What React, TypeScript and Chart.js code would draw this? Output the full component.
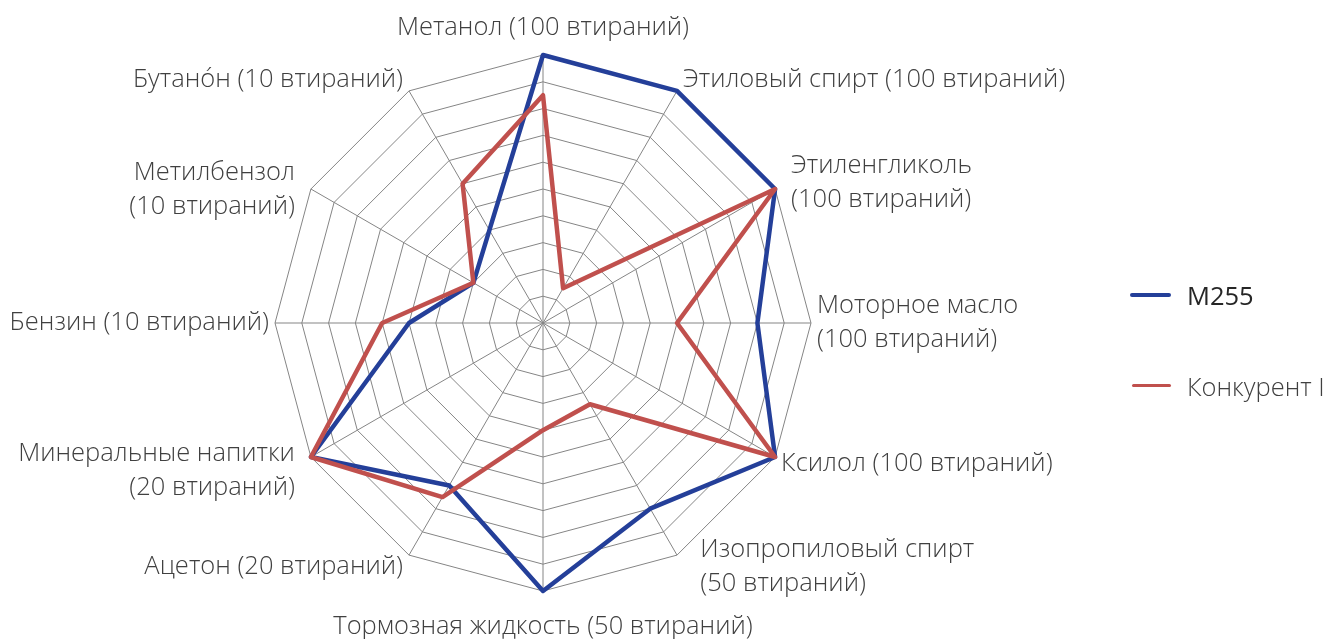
import React, { useEffect, useRef } from "react";
import { Chart, registerables } from "chart.js";

Chart.register(...registerables);

// ---- data ----
const CATEGORIES: string[][] = [
  ["Метанол (100 втираний)"],
  ["Этиловый спирт (100 втираний)"],
  ["Этиленгликоль", "(100 втираний)"],
  ["Моторное масло", "(100 втираний)"],
  ["Ксилол (100 втираний)"],
  ["Изопропиловый спирт", "(50 втираний)"],
  ["Тормозная жидкость (50 втираний)"],
  ["Ацетон (20 втираний)"],
  ["Минеральные напитки", "(20 втираний)"],
  ["Бензин (10 втираний)"],
  ["Метилбензол", "(10 втираний)"],
  ["Бутано\u0301н (10 втираний)"],
];

const SERIES_NAMES = ["M255", "Конкурент I"];
const M255_VALUES = [10, 10, 10, 8, 10, 8, 10, 7, 10, 5, 3, 4];
const COMPETITOR_VALUES = [8.5, 1.5, 10, 5, 10, 3.5, 4, 7.5, 10, 6, 3, 6];

const SCALE_MIN = 0;
const SCALE_MAX = 10;
const SCALE_STEP = 1;

// ---- styles ----
const BLUE = "#243f99";
const RED = "#c0504d";
const GRID = "#858585";
const LABEL_COLOR = "#404040";
const FONT_FAMILY = '"Open Sans", "Noto Sans", sans-serif';
const FONT_WEIGHT = 300;
const FONT_SIZE = 25.5;
const LINE_H = 34;

const labelPlugin = {
  id: "excelPointLabels",
  afterDraw(chart: any) {
    const scale = chart.scales.r;
    const ctx = chart.ctx as CanvasRenderingContext2D;
    const n = CATEGORIES.length;
    ctx.save();
    ctx.font = `${FONT_WEIGHT} ${FONT_SIZE}px ${FONT_FAMILY}`;
    ctx.fillStyle = LABEL_COLOR;
    ctx.textBaseline = "middle";
    for (let i = 0; i < n; i++) {
      const lines = CATEGORIES[i];
      const p = scale.getPointPosition(i, scale.drawingArea);
      const a = (i / n) * Math.PI * 2;
      const s = Math.sin(a);
      const c = Math.cos(a);
      const h = (lines.length - 1) * LINE_H;
      let x = p.x;
      let yMid: number;
      if (Math.abs(s) < 1e-6) {
        ctx.textAlign = "center";
        yMid = c > 0 ? p.y - 27 : p.y + 36;
      } else {
        ctx.textAlign = s > 0 ? "left" : "right";
        const multi = lines.length > 1;
        const extra = multi ? 20 * Math.abs(c) : 0;
        x = p.x + Math.sign(s) * (6 + extra);
        yMid = p.y - c * 13 + (multi && s < 0 ? 7 : 0);
      }
      lines.forEach((ln, k) => ctx.fillText(ln, x, yMid - h / 2 + k * LINE_H));
    }
    ctx.restore();
  },
};

export default function App() {
  const ref = useRef<HTMLCanvasElement | null>(null);

  useEffect(() => {
    if (!ref.current) return;
    const chart = new Chart(ref.current, {
      type: "radar",
      data: {
        labels: CATEGORIES,
        datasets: [
          {
            label: SERIES_NAMES[0],
            data: M255_VALUES,
            borderColor: BLUE,
            backgroundColor: "transparent",
            borderWidth: 4.5,
            pointRadius: 0,
            fill: false,
            borderJoinStyle: "round",
            order: 1,
          },
          {
            label: SERIES_NAMES[1],
            data: COMPETITOR_VALUES,
            borderColor: RED,
            backgroundColor: "transparent",
            borderWidth: 4.5,
            pointRadius: 0,
            fill: false,
            borderJoinStyle: "round",
            order: 0,
          },
        ],
      },
      options: {
        animation: false,
        responsive: true,
        maintainAspectRatio: false,
        layout: { padding: { left: 267, right: 509, top: 47, bottom: 48 } },
        plugins: { legend: { display: false }, tooltip: { enabled: false } },
        scales: {
          r: {
            min: SCALE_MIN,
            max: SCALE_MAX,
            ticks: { stepSize: SCALE_STEP, display: false },
            grid: { color: GRID, lineWidth: 1 },
            angleLines: { color: GRID, lineWidth: 1 },
            pointLabels: { display: false },
          },
        },
      },
      plugins: [labelPlugin],
    });
    return () => chart.destroy();
  }, []);

  const legendText: React.CSSProperties = {
    position: "absolute",
    left: 1179,
    fontFamily: FONT_FAMILY,
    fontWeight: FONT_WEIGHT,
    fontSize: FONT_SIZE,
    lineHeight: "30px",
    whiteSpace: "nowrap",
  };

  return (
    <div style={{ position: "fixed", left: 8, top: 8, width: 1312, height: 631 }}>
      <canvas ref={ref} style={{ display: "block" }} />
      <div style={{ position: "absolute", left: 1122, top: 285, width: 41, height: 4, background: BLUE, borderRadius: 2 }} />
      <div style={{ ...legendText, top: 272, color: "#262626", fontWeight: 400 }}>{SERIES_NAMES[0]}</div>
      <div style={{ position: "absolute", left: 1124, top: 376, width: 39, height: 3, background: RED, borderRadius: 1.5 }} />
      <div style={{ ...legendText, top: 363, color: LABEL_COLOR }}>{SERIES_NAMES[1]}</div>
    </div>
  );
}
